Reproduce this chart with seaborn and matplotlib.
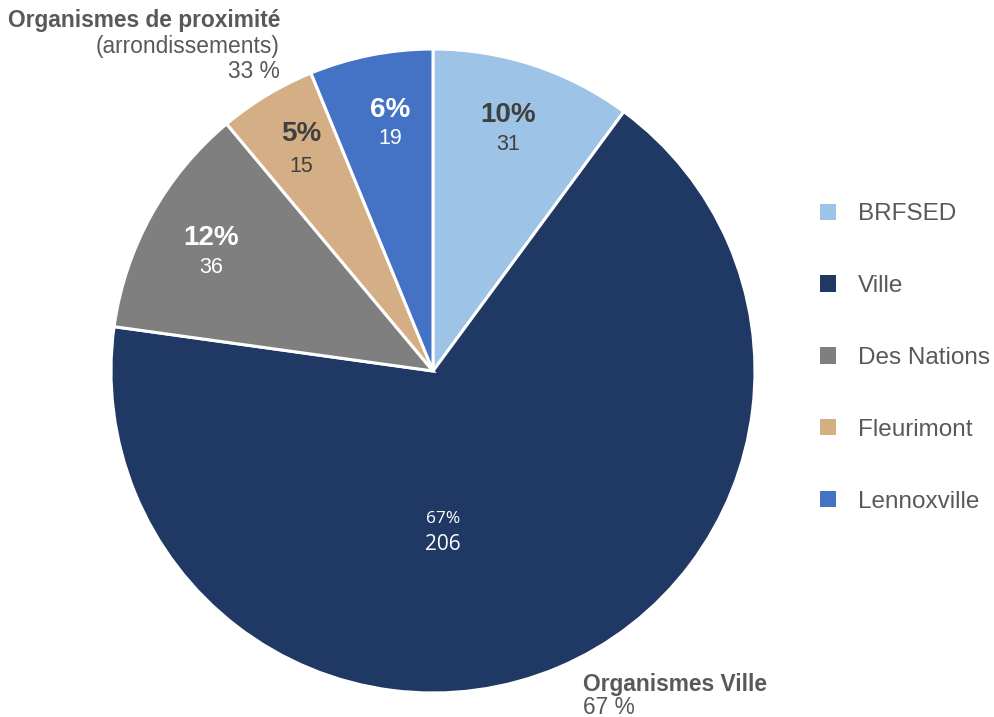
import matplotlib
matplotlib.use("Agg")
import matplotlib.pyplot as plt
import matplotlib.patches as mpatches
import seaborn as sns

# Data
categories = ["BRFSED", "Ville", "Des Nations", "Fleurimont", "Lennoxville"]
values = [31, 206, 36, 15, 19]
pct_labels = ["10%", "67%", "12%", "5%", "6%"]
colors = ["#9DC3E6", "#203864", "#7F7F7F", "#D4AE84", "#4472C4"]

sns.set_theme(style="white")
plt.rcParams['font.family'] = ['Liberation Sans', 'DejaVu Sans']

W, H = 995, 717
fig = plt.figure(figsize=(W / 100, H / 100), dpi=100)

cx, cy, R = 433, 371, 322
ax = fig.add_axes([(cx - R) / W, (H - cy - R) / H, 2 * R / W, 2 * R / H])
palette = sns.color_palette(colors)
wedges, _ = ax.pie(values, colors=palette, startangle=90, counterclock=False,
                   radius=1, wedgeprops=dict(edgecolor="white", linewidth=2.2))
ax.set_xlim(-1, 1)
ax.set_ylim(-1, 1)
ax.set_aspect("equal")
ax.axis("off")

def d(px, py):
    return ((px - cx) / R, (cy - py) / R)

# in-slice labels (pixel anchor positions)
lab_pos = {
    "BRFSED": ((508, 115), (508, 145), "#404040"),
    "Lennoxville": ((390, 110), (390, 139), "white"),
    "Fleurimont": ((301, 134), (301, 166), "#404040"),
    "Des Nations": ((211, 238), (211, 268), "white"),
}
for cat, val, pct in zip(categories, values, pct_labels):
    if cat == "Ville":
        x, y = d(443, 519)
        ax.text(x, y, pct, ha="center", va="center", color="white",
                fontsize=12.5, family=["Open Sans", "DejaVu Sans"])
        x, y = d(443, 545)
        ax.text(x, y, str(val), ha="center", va="center", color="white",
                fontsize=15, family=["Open Sans", "DejaVu Sans"])
    else:
        (p1, p2, c) = lab_pos[cat]
        x, y = d(*p1)
        ax.text(x, y, pct, ha="center", va="center", color=c,
                fontsize=20, fontweight="bold")
        x, y = d(*p2)
        ax.text(x, y, str(val), ha="center", va="center", color=c, fontsize=15.5)

gray = "#595959"
# Outer group labels
fig.text(280 / W, 1 - 20 / H, "Organismes de proximité", ha="right", va="center",
         fontsize=16.4, fontweight="bold", color=gray)
fig.text(280 / W, 1 - 46 / H, "(arrondissements)", ha="right", va="center",
         fontsize=16.4, color=gray)
fig.text(280 / W, 1 - 72 / H, "33 %", ha="right", va="center",
         fontsize=16.4, color=gray)
fig.text(583 / W, 1 - 684 / H, "Organismes Ville", ha="left", va="center",
         fontsize=16.4, fontweight="bold", color=gray)
fig.text(583 / W, 1 - 707 / H, "67 %", ha="left", va="center",
         fontsize=16.4, color=gray)

handles = [mpatches.Patch(facecolor=c, edgecolor="none") for c in colors]
leg = fig.legend(handles, categories, loc="center left",
                 bbox_to_anchor=(820 / W, 1 - 358 / H), frameon=False,
                 fontsize=17.5, handlelength=0.66, handleheight=0.66,
                 handletextpad=0.9, labelspacing=2.05, borderpad=0,
                 borderaxespad=0)
for t in leg.get_texts():
    t.set_color(gray)

fig.savefig("out.png", dpi=100)
